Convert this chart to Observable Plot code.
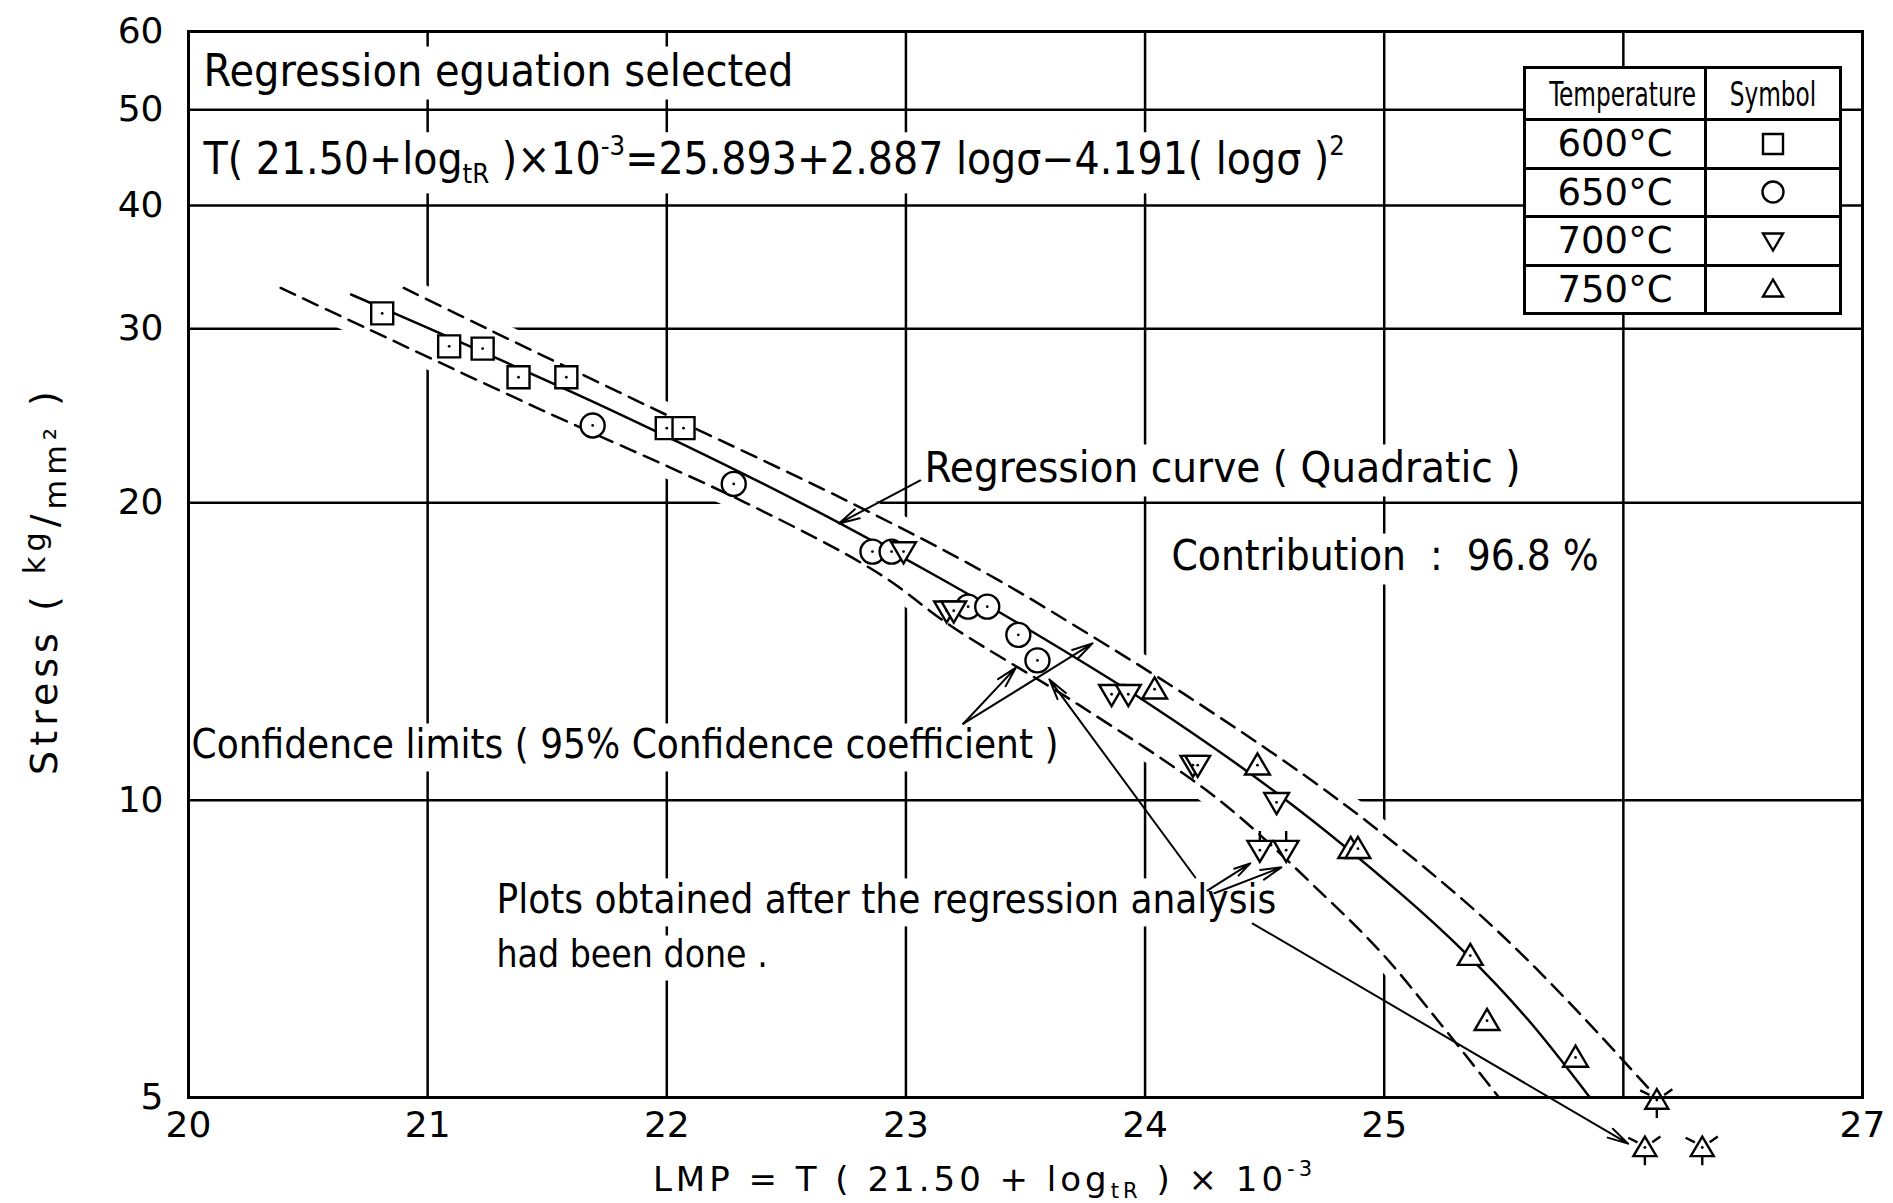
<!DOCTYPE html>
<html>
<head>
<meta charset="utf-8">
<script src="https://cdn.jsdelivr.net/npm/d3@7"></script>
<script src="https://cdn.jsdelivr.net/npm/@observablehq/plot@0.6"></script>
<style>
  html, body { margin: 0; padding: 0; background: #fff; }
  #chart { position: relative; width: 1893px; height: 1203px; overflow: hidden; }
  #legend {
    position: absolute; left: 1523px; top: 66px; width: 316px; height: 246px;
    border-collapse: collapse; table-layout: fixed; background: #fff;
    font-family: "DejaVu Sans", sans-serif; color: #000;
  }
  #legend td { border: 3px solid #000; padding: 0; text-align: center; vertical-align: middle; line-height: 1; }
  #legend .head { font-family: "DejaVu Sans Condensed", "DejaVu Sans", sans-serif; font-size: 34px; display: inline-block; transform: scaleX(0.76); white-space: nowrap; }
  #legend .temp { font-size: 37px; }
  #legend svg { display: block; margin: 0 auto; }
</style>
</head>
<body>
<div id="chart"></div>
<script>
// Creep rupture data: [LMP, stress (kg/mm²)] for each test temperature
const t600 = [[20.81, 31.1], [21.09, 28.8], [21.23, 28.65], [21.38, 26.8], [21.58, 26.8], [22.00, 23.8], [22.07, 23.8]];
const t650 = [[21.69, 23.95], [22.28, 20.9], [22.86, 17.85], [22.94, 17.85], [23.26, 15.7], [23.34, 15.7], [23.47, 14.7], [23.55, 13.85]];
const t700 = [[22.99, 17.85], [23.17, 15.55], [23.20, 15.55], [23.86, 12.8], [23.93, 12.8], [24.20, 10.85], [24.22, 10.85], [24.55, 9.95]];
const t750 = [[24.04, 12.95], [24.47, 10.85], [24.86, 8.93], [24.89, 8.93], [25.36, 6.96], [25.43, 5.98], [25.80, 5.49]];
// results that came in after the regression analysis
const t700Later = [[24.48, 8.9], [24.59, 8.9]];
const t750Later = [[26.14, 4.97], [26.09, 4.45], [26.33, 4.45]];

// Quadratic regression curve, LMP = 25.893 + 2.887 logσ − 4.191 (logσ)²
const regStress = [32.5, 30, 25, 20, 17, 15, 12.5, 10, 8, 7, 6, 5];
const regLMP = [20.68, 21.01, 21.74, 22.56, 23.10, 23.49, 24.02, 24.59, 25.08, 25.34, 25.60, 25.86];

// 95% confidence limits
const bandStress = [33, 30, 25, 20, 17, 15, 12.5, 10, 8, 7, 6, 5];
const lowerLMP = [20.385, 20.75, 21.45, 22.33, 22.88, 23.19, 23.72, 24.31, 24.75, 24.99, 25.22, 25.48];
const upperLMP = [20.90, 21.25, 21.93, 22.77, 23.33, 23.71, 24.23, 24.81, 25.31, 25.57, 25.84, 26.14];

// Axis ticks and grid
const xTickValues = [20, 21, 22, 23, 24, 25, 27];
const yTickValues = [5, 10, 20, 30, 40, 50, 60];
const xGrid = [21, 22, 23, 24, 25, 26];
const yGrid = [10, 20, 30, 40, 50];

// Legend
const temperatures = ["600°C", "650°C", "700°C", "750°C"];

// Annotations (anchor in data space: LMP, stress at baseline)
const noteText = [
  "Regression eguation selected",
  "T( 21.50+log_{tR} )×10^{-3}=25.893+2.887 logσ−4.191( logσ )^{2}",
  "Regression curve ( Quadratic )",
  "Contribution  :  96.8 %",
  "Confidence limits ( 95% Confidence coefficient )",
  "Plots obtained after the regression analysis",
  "had been done ."
];
const noteLMP = [20.063, 20.063, 23.078, 24.11, 20.013, 21.288, 21.288];
const noteStress = [52.9, 43.07, 20.97, 17.08, 11.02, 7.68, 6.77];
const noteSize = [44.5, 44, 43.5, 42, 40, 40, 37];

// Leader arrows: [LMP from, stress from, LMP to, stress to]
const leaders = [
  [23.06, 21.07, 22.72, 19.06],
  [23.24, 11.95, 23.46, 13.62],
  [23.24, 11.95, 23.78, 14.41],
  [24.21, 8.35, 23.60, 13.25],
  [24.26, 8.10, 24.44, 8.63],
  [24.29, 8.05, 24.57, 8.55],
  [24.45, 7.50, 26.02, 4.49]
];

// ---- marker shapes (size = π r²) ----
const rad = s => Math.sqrt(s / Math.PI);
const squareSym = {draw(c, s) { const r = rad(s); c.rect(-r, -r, 2 * r, 2 * r); }};
const triUp = {draw(c, s) { const r = rad(s); c.moveTo(0, -0.95 * r); c.lineTo(r, 0.75 * r); c.lineTo(-r, 0.75 * r); c.closePath(); }};
const triDown = {draw(c, s) { const r = rad(s); c.moveTo(0, 0.95 * r); c.lineTo(r, -0.75 * r); c.lineTo(-r, -0.75 * r); c.closePath(); }};
const triUpSpiked = {draw(c, s) {
  triUp.draw(c, s); const r = rad(s);
  c.moveTo(-0.64 * r, -0.45 * r); c.lineTo(-1.45 * r, -0.85 * r);
  c.moveTo(0.64 * r, -0.45 * r); c.lineTo(1.35 * r, -0.95 * r);
  c.moveTo(0, 0.75 * r); c.lineTo(0, 1.55 * r);
}};
const triDownTicked = {draw(c, s) {
  triDown.draw(c, s); const r = rad(s);
  c.moveTo(0, -0.75 * r); c.lineTo(0, -1.55 * r);
}};

const regRows = regStress.map((s, i) => ({stress: s, lmp: regLMP[i]}));
const bandRows = bandStress.map((s, i) => ({stress: s, lower: lowerLMP[i], upper: upperLMP[i]}));
const notes = noteText.map((text, i) => ({text, lmp: noteLMP[i], stress: noteStress[i], size: noteSize[i]}));
const allPoints = [...t600, ...t650, ...t700, ...t750, ...t700Later, ...t750Later];

const narrow = "'DejaVu Sans Condensed', 'DejaVu Sans', sans-serif";
const ink = "#000";
const markerStyle = {x: d => d[0], y: d => d[1], fill: "#fff", stroke: ink, strokeWidth: 2.4};

const svg = Plot.plot({
  width: 1893,
  height: 1203,
  marginLeft: 188,
  marginRight: 31,
  marginTop: 31,
  marginBottom: 106,
  style: {fontFamily: "'DejaVu Sans', sans-serif", fontSize: "36px", color: ink, background: "#fff", overflow: "visible"},
  x: {domain: [20, 27], ticks: xTickValues, tickFormat: d => String(d), tickSize: 0, tickPadding: 14, label: null},
  y: {type: "log", domain: [5, 60], ticks: yTickValues, tickFormat: d => String(d), tickSize: 0, tickPadding: 25, label: null},
  marks: [
    Plot.ruleX(xGrid, {stroke: ink, strokeWidth: 2.5}),
    Plot.ruleY(yGrid, {stroke: ink, strokeWidth: 2.5}),
    // grid is left out inside the confidence band
    Plot.areaX(bandRows.filter(d => d.stress >= 6), {y: "stress", x1: "lower", x2: "upper", fill: "#fff", stroke: "#fff", strokeWidth: 24, strokeLinejoin: "round", curve: "catmull-rom", ariaDescription: "band"}),
    Plot.line(bandRows, {x: "lower", y: "stress", curve: "catmull-rom", stroke: ink, strokeWidth: 2.5, strokeDasharray: "16,9"}),
    Plot.line(bandRows, {x: "upper", y: "stress", curve: "catmull-rom", stroke: ink, strokeWidth: 2.5, strokeDasharray: "16,9"}),
    Plot.line(regRows, {x: "lmp", y: "stress", curve: "catmull-rom", stroke: ink, strokeWidth: 2.5}),
    Plot.arrow(leaders, {x1: d => d[0], y1: d => d[1], x2: d => d[2], y2: d => d[3], stroke: ink, strokeWidth: 2, headLength: 16, headAngle: 28}),
    Plot.dot(t600, {...markerStyle, symbol: squareSym, r: 11}),
    Plot.dot(t650, {...markerStyle, symbol: "circle", r: 12}),
    Plot.dot(t700, {...markerStyle, symbol: triDown, r: 12.4}),
    Plot.dot(t750, {...markerStyle, symbol: triUp, r: 12.4}),
    Plot.dot(t700Later, {...markerStyle, symbol: triDownTicked, r: 12.4}),
    Plot.dot(t750Later, {...markerStyle, symbol: triUpSpiked, r: 11.5}),
    Plot.dot(allPoints, {x: d => d[0], y: d => d[1], r: 1.4, fill: ink}),
    Plot.text(notes, {x: "lmp", y: "stress", text: "text", fontSize: d => d.size, textAnchor: "start", lineAnchor: "bottom", fontFamily: narrow, fill: ink, ariaDescription: "note"}),
    Plot.text(["LMP = T ( 21.50 + log_{tR} ) × 10^{-3}"], {frameAnchor: "bottom", dx: -41, dy: 93, textAnchor: "middle", lineAnchor: "bottom", fontSize: 34, fill: ink, ariaDescription: "x-title"}),
    Plot.text(["Stress ( ^{kg}/_{mm²} )"], {frameAnchor: "left", rotate: -90, dx: -132, dy: 16, textAnchor: "middle", lineAnchor: "bottom", fontSize: 38, fill: ink, ariaDescription: "y-title"}),
    Plot.frame({stroke: ink, strokeWidth: 3})
  ]
});

const host = document.getElementById("chart");
host.appendChild(svg);

// sub- and superscripts written as _{..} and ^{..}
const SVGNS = "http://www.w3.org/2000/svg";
function richText(el, scale = 0.62, up = -0.42, down = 0.22) {
  const s = el.textContent;
  if (!/[_^]\{/.test(s)) return;
  el.textContent = "";
  let cur = 0; // baseline offset, in em of the parent
  const add = (str, target, small) => {
    const t = document.createElementNS(SVGNS, "tspan");
    t.textContent = str;
    const shift = target - cur;
    if (small) {
      t.setAttribute("font-size", Math.round(scale * 100) + "%");
      if (shift) t.setAttribute("dy", (shift / scale).toFixed(3) + "em");
    } else if (shift) {
      t.setAttribute("dy", shift.toFixed(3) + "em");
    }
    cur = target;
    el.appendChild(t);
  };
  const re = /([_^])\{([^}]*)\}/g;
  let last = 0, m;
  while ((m = re.exec(s))) {
    if (m.index > last) add(s.slice(last, m.index), 0, false);
    add(m[2], m[1] === "^" ? up : down, true);
    last = re.lastIndex;
  }
  if (last < s.length) add(s.slice(last), 0, false);
}
svg.querySelectorAll('g[aria-description="y-title"] text').forEach(t => {
  richText(t, 0.8, -0.3, 0.25);
  t.style.letterSpacing = "5px";
});
svg.querySelectorAll("text").forEach(t => richText(t));
svg.querySelectorAll('g[aria-description="x-title"] text').forEach(t => t.style.letterSpacing = "4px");

// blank the grid behind the annotation texts
const band = svg.querySelector('g[aria-description="band"]');
const notesG = svg.querySelector('g[aria-description="note"]');
if (band && notesG) {
  const blank = document.createElementNS(SVGNS, "g");
  notesG.querySelectorAll("text").forEach(t => {
    const b = t.getBBox();
    const r = document.createElementNS(SVGNS, "rect");
    r.setAttribute("x", b.x - 6);
    r.setAttribute("y", b.y + 2);
    r.setAttribute("width", b.width + 12);
    r.setAttribute("height", b.height + 2);
    r.setAttribute("fill", "#fff");
    const tr = t.getAttribute("transform");
    if (tr) r.setAttribute("transform", tr);
    blank.appendChild(r);
  });
  if (notesG.getAttribute("transform")) blank.setAttribute("transform", notesG.getAttribute("transform"));
  band.parentNode.insertBefore(blank, band);
}

// legend table
const legendSymbols = [squareSym, d3.symbolCircle, triDown, triUp];
const legendR = [10, 10.5, 10, 10];
const table = document.createElement("table");
table.id = "legend";
table.innerHTML =
  '<colgroup><col style="width:181px"><col style="width:135px"></colgroup>' +
  '<tr style="height:52px"><td><span class="head">Temperature</span></td><td><span class="head">Symbol</span></td></tr>' +
  temperatures.map((t, i) => {
    const path = d3.symbol(legendSymbols[i], Math.PI * legendR[i] * legendR[i])();
    return `<tr style="height:48.5px"><td class="temp">${t}</td><td><svg width="32" height="32" viewBox="-16 -16 32 32"><path d="${path}" fill="none" stroke="#000" stroke-width="2.4"/></svg></td></tr>`;
  }).join("");
host.appendChild(table);
</script>
</body>
</html>
